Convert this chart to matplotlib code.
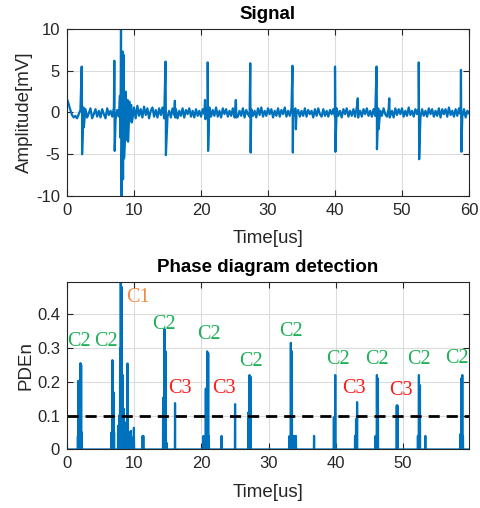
import numpy as np
import matplotlib
matplotlib.use("Agg")
import matplotlib.pyplot as plt

plt.rcParams['font.family'] = ['Liberation Sans', 'DejaVu Sans']
plt.rcParams['axes.unicode_minus'] = False

# --- signal (top) ---
# baseline noise read every 0.25 us
base_step = 0.25
base_v = [
    1.6, 1.0, 0.3, -0.3, -0.6, -0.4, -0.7, -0.2, 0.3, -0.5, -0.8, 0.4, -0.6, -0.1, 0.5, -0.7, -0.2, 0.4, -0.5, 0.2,
    -0.6, 0.4, -0.2, -0.7, 0.5, -0.3, 0.2, -0.5, 0.6, -0.8, 0.3, -0.5, 0.9, -1.2, 1.4, -1.5, 1.1, -0.9, 0.8, -0.9,
    0.6, -0.7, 0.8, -0.4, 0.4, -0.6, 0.7, -0.3, 0.5, -0.7, 0.2, 0.6, -0.5, 0.3, -0.6, 0.5, -0.3, 0.6, -0.7, 0.3,
    -0.5, 0.2, -0.6, 0.5, -0.3, 0.4, -0.7, 0.2, -0.4, 0.5, -0.6, 0.3, -0.2, 0.5, -0.5, 0.2, -0.6, 0.4, -0.4, 0.2,
    -0.5, 0.4, -0.2, 0.5, -0.6, 0.6, -0.5, 0.3, -0.4, 0.6, -0.5, 0.2, -0.6, 0.5, -0.2, 0.4, -0.5, 0.2, -0.4, 0.5,
    -0.6, 0.4, -0.5, 0.2, -0.4, 0.5, -0.6, 0.3, -0.2, -0.5, 0.4, -0.4, 0.2, -0.6, 0.5, -0.3, 0.6, -0.5, 0.2, -0.4,
    0.5, -0.2, 0.4, -0.6, 0.2, -0.4, 0.5, -0.5, 0.3, -0.2, 0.6, -0.5, 0.2, -0.4, 0.5, -0.6, 0.4, -0.2, 0.3, -0.5,
    0.2, -0.4, 0.5, -0.5, 0.3, -0.2, 0.2, -0.6, 0.4, -0.4, 0.5, -0.2, -0.5, 0.4, -0.4, 0.2, -0.5, 0.3, -0.2, 0.4,
    -0.5, 0.5, -0.4, 0.2, -0.6, 0.4, -0.2, 0.5, -0.5, 0.2, -0.4, 0.4, -0.5, 0.6, -0.3, 0.2, -0.5, 0.4, -0.2, 0.5,
    -0.4, 0.2, -0.5, 0.4, -0.4, 0.6, -0.5, 0.2, -0.4, 0.5, -0.2, -0.5, 0.4, -0.4, 0.2, -0.6, 0.5, -0.3, 0.4, -0.2,
    0.5, -0.5, 0.2, -0.4, 0.6, -0.3, 0.2, -0.5, 0.4, -0.2, 0.5, -0.6, 0.4, -0.4, 0.2, -0.5, 0.5, -0.2, 0.4, -0.5,
    0.2, -0.4, 0.5, -0.6, 0.4, -0.2, 0.4, -0.5, 0.6, -0.3, 0.2, -0.5, 0.4, -0.4, 0.5, -0.2, -0.5, 0.4, -0.6, 0.2,
    -0.1,
]
# spikes: time, peak, trough
spike_t = [2.19, 2.45, 7.06, 7.9, 8.06, 8.3, 8.45, 8.75, 9.05, 9.3, 9.6, 14.7, 16.1, 20.6, 21.0,
           25.2, 27.35, 33.65, 34.1, 40.0, 43.4, 46.2, 46.45, 48.1, 52.5, 58.8]
spike_up = [5.5, 0.6, 6.2, 2.0, 11.0, 7.3, 6.9, 2.5, 1.5, 1.3, 0.9, 6.1, 1.4, 1.5, 6.0,
            1.5, 5.9, 5.6, 0.5, 5.5, 1.7, 5.5, 0.5, 1.7, 6.0, 5.1]
spike_dn = [-5.0, -1.8, -4.6, -3.0, -11.0, -8.0, -5.5, -3.3, -3.5, -1.0, -1.2, -5.1, -0.6, -0.8, -4.6,
            -0.6, -4.8, -4.8, -2.0, -4.7, -0.6, -4.4, -2.0, -0.6, -5.6, -4.7]

# --- phase diagram detection (bottom) ---
pde_t = [1.62, 1.69, 2.0, 2.1, 2.2,
         6.6, 6.75, 6.9, 7.0,
         7.6, 7.75, 7.9, 8.0, 8.15, 8.3, 8.45, 8.6, 8.75, 8.9, 9.0, 9.15, 9.3, 9.5, 9.7, 9.95,
         11.25, 11.35,
         14.3, 14.5, 14.65, 14.8,
         16.07,
         20.3, 20.65, 20.85, 21.0, 21.1,
         23.0, 25.0,
         27.0, 27.15, 27.3,
         33.1, 33.3, 33.45, 33.6, 33.75, 33.9, 34.05,
         36.75,
         39.7, 39.9,
         42.85, 43.0, 43.15,
         45.9, 46.1, 46.25,
         49.05, 49.15,
         52.2, 52.35, 52.5, 53.3,
         58.5, 58.65, 58.8, 58.9]
pde_v = [0.04, 0.203, 0.255, 0.25, 0.05,
         0.05, 0.264, 0.17, 0.05,
         0.07, 0.1, 0.3, 0.495, 0.48, 0.22, 0.12, 0.05, 0.08, 0.05, 0.254, 0.045, 0.05, 0.055, 0.035, 0.064,
         0.04, 0.04,
         0.153, 0.356, 0.29, 0.02,
         0.137,
         0.04, 0.18, 0.29, 0.285, 0.04,
         0.04, 0.134,
         0.11, 0.22, 0.215,
         0.04, 0.315, 0.29, 0.04, 0.04, 0.04, 0.04,
         0.04,
         0.095, 0.22,
         0.04, 0.09, 0.14,
         0.04, 0.22, 0.21,
         0.13, 0.13,
         0.04, 0.22, 0.19, 0.04,
         0.045, 0.21, 0.22, 0.04]
threshold = 0.1

labels = ['C2', 'C2', 'C1', 'C2', 'C3', 'C2', 'C3', 'C2', 'C2', 'C2', 'C3', 'C2', 'C3', 'C2', 'C2']
label_t = [1.8, 5.75, 10.5, 14.4, 16.8, 21.1, 23.4, 27.4, 33.3, 40.3, 42.7, 46.1, 49.7, 52.3, 58.0]
label_v = [0.32, 0.32, 0.45, 0.37, 0.18, 0.34, 0.18, 0.26, 0.35, 0.265, 0.18, 0.265, 0.175, 0.265, 0.27]
label_colors = {'C1': '#F08A48', 'C2': '#1DB056', 'C3': '#FF1A1A'}

blue = '#0072BD'
dark = '#262626'


def matlab_axes(ax):
    ax.grid(True, color='#DCDCDC', linewidth=0.8)
    ax.set_axisbelow(True)
    ax.tick_params(direction='in', top=True, right=True, labelsize=12,
                   colors=dark, length=4, width=0.8, pad=5)
    for s in ax.spines.values():
        s.set_color(dark)
        s.set_linewidth(0.8)


fig = plt.figure(figsize=(4.8, 5.08), dpi=100)

# top: signal
ax1 = fig.add_axes([0.1396, 0.6142, 0.8375, 0.3287])
base_t = np.arange(len(base_v)) * base_step
st = np.array(spike_t)
t_all = np.concatenate([base_t, st, st + 0.06])
v_all = np.concatenate([base_v, spike_up, spike_dn])
order = np.argsort(t_all, kind='stable')
ax1.plot(t_all[order], v_all[order], color=blue, linewidth=1.6)
ax1.set_xlim(0, 60)
ax1.set_ylim(-10, 10)
ax1.set_xticks([0, 10, 20, 30, 40, 50, 60])
ax1.set_yticks([-10, -5, 0, 5, 10])
ax1.set_title('Signal', fontsize=13.5, fontweight='bold', color='black', pad=7)
ax1.set_xlabel('Time[us]', fontsize=13.5, color=dark, labelpad=9)
ax1.set_ylabel('Amplitude[mV]', fontsize=13.5, color=dark, labelpad=2)
matlab_axes(ax1)

# bottom: phase diagram detection
ax2 = fig.add_axes([0.1396, 0.1152, 0.8375, 0.3297])
pt = np.array(pde_t)
px = np.concatenate([[0.0], pt - 0.025, pt, pt + 0.025, [59.8]])
py = np.concatenate([[0.0], np.zeros(len(pt)), pde_v, np.zeros(len(pt)), [0.0]])
order = np.argsort(px, kind='stable')
ax2.plot(px[order], py[order], color=blue, linewidth=1.6)
ax2.axhline(threshold, color='black', linestyle=(0, (4, 2.5)), linewidth=2)
for lab, tx, ty in zip(labels, label_t, label_v):
    ax2.text(tx, ty, lab, color=label_colors[lab], fontsize=14.5,
             family=['Liberation Serif', 'DejaVu Serif'], ha='center', va='center')
ax2.set_xlim(0, 59.8)
ax2.set_ylim(0, 0.495)
ax2.set_xticks([0, 10, 20, 30, 40, 50])
ax2.set_yticks([0, 0.1, 0.2, 0.3, 0.4])
ax2.set_yticklabels(['0', '0.1', '0.2', '0.3', '0.4'])
ax2.set_title('Phase diagram detection', fontsize=13.5, fontweight='bold', color='black', pad=7)
ax2.set_xlabel('Time[us]', fontsize=13.5, color=dark, labelpad=9)
ax2.set_ylabel('PDEn', fontsize=13.5, color=dark, labelpad=2)
matlab_axes(ax2)

fig.savefig('out.png', dpi=100)
